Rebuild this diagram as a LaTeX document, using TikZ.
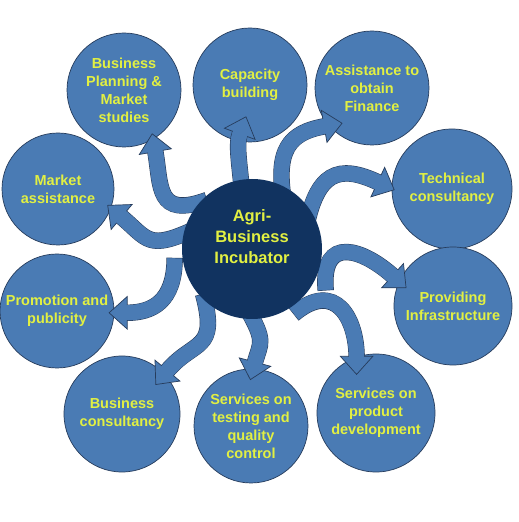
\documentclass[tikz,border=0pt]{standalone}
\usepackage{fontspec}
\setmainfont{Liberation Sans}
\usepackage{tikz}
\usetikzlibrary{arrows.meta,positioning,calc}

\definecolor{hubnavy}{RGB}{17,51,96}
\definecolor{topicblue}{RGB}{74,123,180}
\definecolor{rimblue}{RGB}{38,60,92}
\definecolor{textyellow}{RGB}{226,240,66}

\pgfdeclarelayer{front}
\pgfsetlayers{main,front}

\begin{document}
\begin{tikzpicture}[x=1pt,y=1pt,
  topic/.style={circle,draw=rimblue,line width=0.7pt,fill=topicblue,inner sep=0pt,
    minimum size=#1,align=center,text=textyellow,font=\bfseries\fontsize{14.5}{18}\selectfont},
  hubdisc/.style={circle,fill=hubnavy,minimum size=140pt,inner sep=0pt},
  hubtext/.style={align=center,text=textyellow,font=\bfseries\fontsize{16.5}{21}\selectfont},
  flow/.style={draw=topicblue,line width=15pt,
    -{Triangle[length=19pt,width=34pt,fill=topicblue,color=rimblue,line width=0.7pt]},
    preaction={draw=rimblue,line width=16.4pt,shorten >=18pt,shorten <=-0.7pt,-},
    postaction={draw=topicblue,line width=15pt,shorten >=16pt,-}},
]
  \path[use as bounding box,fill=white] (0,0) rectangle (519,522); % 全体の枠

  \begin{pgfonlayer}{front}
    \node[hubdisc] (hub) at (252,273) {}; % 中央の円
    \node[hubtext] (hubtitle) at ([yshift=12pt]hub.center) {Agri-\\Business\\Incubator}; % 中央の文字
  \end{pgfonlayer}

  \node[topic=114pt] (bp) at (124,432) {Business\\Planning \&\\Market\\studies}; % 左上
  \node[topic=114pt] (cb) at (250,437) {Capacity\\building}; % 上
  \node[topic=114pt] (af) at (372,434) {Assistance to\\obtain\\Finance}; % 右上
  \node[topic=120pt] (tc) at (452,333) {Technical\\consultancy}; % 右
  \node[topic=118pt] (pi) at (453,216) {Providing\\Infrastructure}; % 右下
  \node[topic=118pt] (pd) at (376,109) {Services on\\product\\development}; % 下右
  \node[topic=114pt] (tq) at (251,96) {Services on\\testing and\\quality\\control}; % 下
  \node[topic=116pt] (bc) at (122,108) {Business\\consultancy}; % 下左
  \node[topic=114pt] (pp) at (57,211) {Promotion and\\publicity}; % 左下
  \node[topic=112pt] (ma) at (58,333) {Market\\assistance}; % 左

  \draw[flow] ($(hub)!0.95!(hub.133)$) to[out=200,in=-80,looseness=1.6] ($(bp)!0.9!(bp.-57)$); % 左上への矢印
  \draw[flow] ($(hub)!0.8!(hub.100)$) to[out=95,in=-110] ($(cb)!0.55!(cb.-97)$); % 上への矢印
  \draw[flow] ($(hub)!0.8!(hub.55)$) to[out=100,in=190,looseness=1.4] ($(af)!0.8!(af.-130)$); % 右上への矢印
  \draw[flow] ($(hub)!0.8!(hub.18)$) to[out=80,in=155,looseness=1.6] ($(tc)!0.95!(tc.181)$); % 右への矢印
  \draw[flow] ($(hub)!1.2!(hub.-29)$) to[out=95,in=138,looseness=1.8] ($(pi)!0.84!(pi.159)$); % 右下への矢印
  \draw[flow] ($(hub)!1.1!(hub.-57)$) to[out=40,in=90,looseness=1.6] ($(pd)!0.72!(pd.117)$); % 下右への矢印
  \draw[flow] ($(hub)!0.85!(hub.-95)$) to[out=-60,in=75,looseness=1.4] ($(tq)!0.8!(tq.91)$); % 下への矢印
  \draw[flow] ($(hub)!0.95!(hub.-137)$) to[out=-75,in=50,looseness=1.5] ($(bc)!0.76!(bc.41)$); % 下左への矢印
  \draw[flow] ($(hub)!1.11!(hub.-173)$) to[out=-90,in=0,looseness=1.3] ($(pp)!0.9!(pp.-2)$); % 左下への矢印
  \draw[flow] ($(hub)!0.85!(hub.160)$) to[out=205,in=-40,looseness=1.5] ($(ma)!0.92!(ma.-18)$); % 左への矢印
\end{tikzpicture}
\end{document}
